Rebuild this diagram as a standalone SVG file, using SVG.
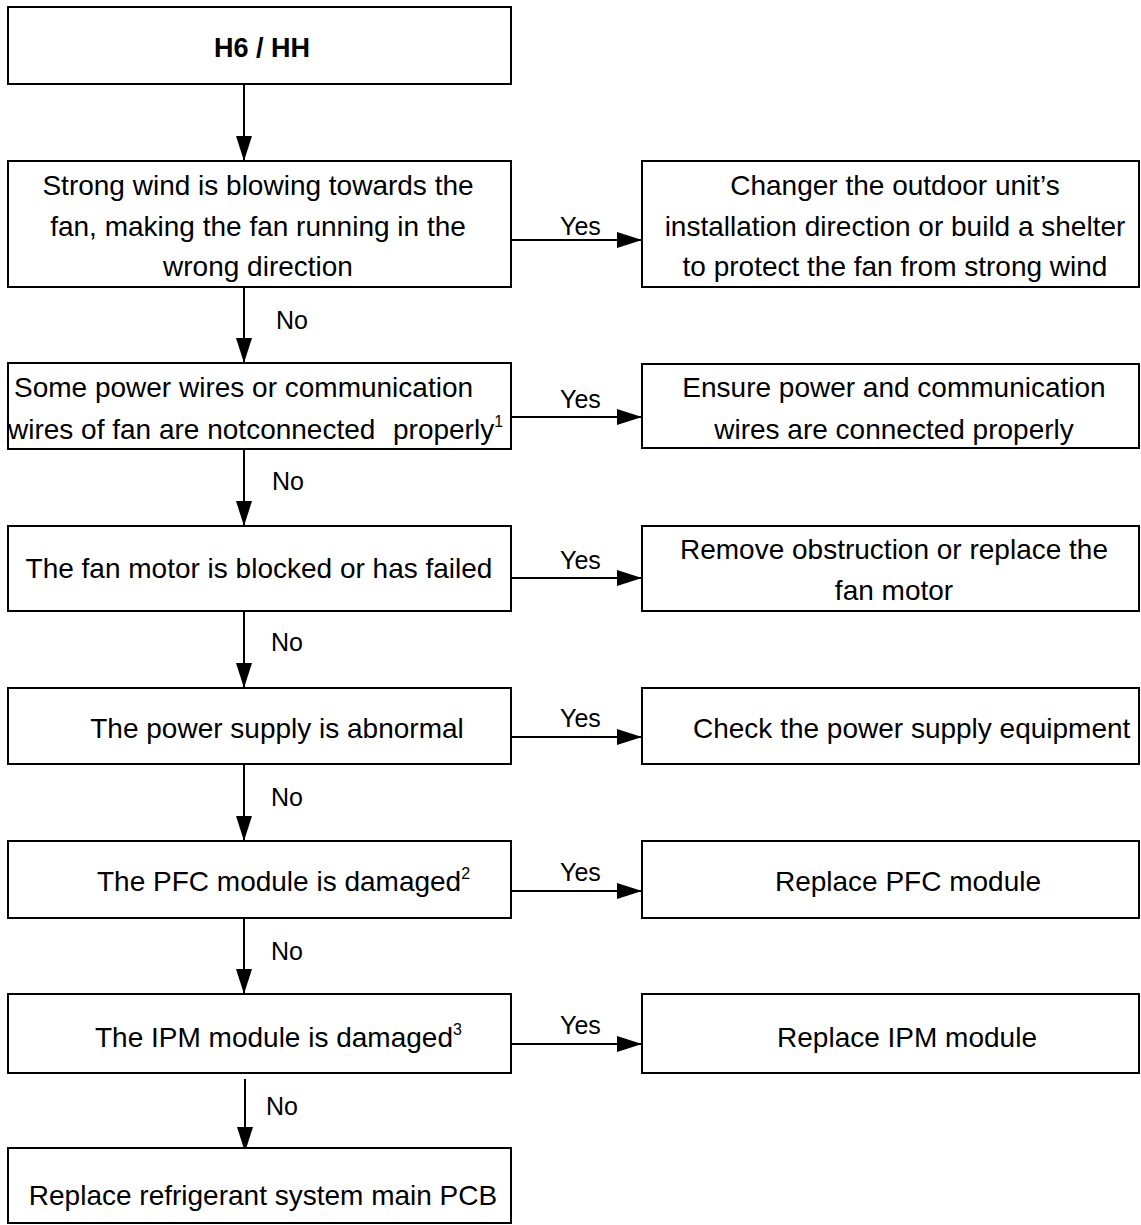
<svg xmlns="http://www.w3.org/2000/svg" width="1141" height="1225" viewBox="0 0 1141 1225">
<style>
  .box { fill: #fff; stroke: #000; stroke-width: 2; }
  .t { font-family: "Liberation Sans", Arial, sans-serif; font-size: 28px; fill: #000; }
  .c { text-anchor: middle; }
  .title { font-family: "Liberation Sans", Arial, sans-serif; font-size: 27px; font-weight: bold; text-anchor: middle; }
  .lbl { font-family: "Liberation Sans", Arial, sans-serif; font-size: 25px; fill: #000; }
  .sup { font-size: 16px; }
  .edge { stroke: #000; stroke-width: 2; fill: none; marker-end: url(#ah); }
</style>
<defs>
  <marker id="ah" markerUnits="userSpaceOnUse" markerWidth="26" markerHeight="16" refX="25" refY="8" orient="auto">
    <path d="M0,0 L25,8 L0,16 Z" fill="#000"/>
  </marker>
</defs>
<rect width="1141" height="1225" fill="#fff"/>

<g id="connectors">
  <line class="edge" x1="244" y1="84" x2="244" y2="161"/>
  <line class="edge" x1="244" y1="287" x2="244" y2="363"/>
  <line class="edge" x1="244" y1="449" x2="244" y2="526"/>
  <line class="edge" x1="244" y1="611" x2="244" y2="688"/>
  <line class="edge" x1="244" y1="764" x2="244" y2="841"/>
  <line class="edge" x1="244" y1="918" x2="244" y2="994"/>
  <line class="edge" x1="245" y1="1079" x2="245" y2="1152"/>
  <line class="edge" x1="511" y1="240" x2="642" y2="240"/>
  <line class="edge" x1="511" y1="417" x2="642" y2="417"/>
  <line class="edge" x1="511" y1="578" x2="642" y2="578"/>
  <line class="edge" x1="511" y1="737" x2="642" y2="737"/>
  <line class="edge" x1="511" y1="891" x2="642" y2="891"/>
  <line class="edge" x1="511" y1="1044" x2="642" y2="1044"/>
  <text class="lbl" x="276" y="329">No</text>
  <text class="lbl" x="272" y="490">No</text>
  <text class="lbl" x="271" y="651">No</text>
  <text class="lbl" x="271" y="806">No</text>
  <text class="lbl" x="271" y="960">No</text>
  <text class="lbl" x="266" y="1115">No</text>
  <text class="lbl" x="560" y="235">Yes</text>
  <text class="lbl" x="560" y="408">Yes</text>
  <text class="lbl" x="560" y="569">Yes</text>
  <text class="lbl" x="560" y="727">Yes</text>
  <text class="lbl" x="560" y="881">Yes</text>
  <text class="lbl" x="560" y="1034">Yes</text>
</g>

<g id="start">
  <rect class="box" x="8" y="7" width="503" height="77"/>
  <text class="title" x="262" y="57">H6 / HH</text>
</g>

<g id="q1">
  <rect class="box" x="8" y="161" width="503" height="126"/>
  <text class="t c" x="258" y="195">Strong wind is blowing towards the</text>
  <text class="t c" x="258" y="236">fan, making the fan running in the</text>
  <text class="t c" x="258" y="276">wrong direction</text>
</g>
<g id="a1">
  <rect class="box" x="642" y="161" width="497" height="126"/>
  <text class="t c" x="895" y="195">Changer the outdoor unit’s</text>
  <text class="t c" x="895" y="236">installation direction or build a shelter</text>
  <text class="t c" x="895" y="276">to protect the fan from strong wind</text>
</g>

<g id="q2">
  <rect class="box" x="8" y="363" width="503" height="86"/>
  <text class="t" x="14" y="397">Some power wires or communication</text>
  <text class="t" x="8" y="439">wires of fan are not<tspan>connected</tspan></text>
  <text class="t" x="393" y="439">properly<tspan class="sup" dy="-12">1</tspan></text>
</g>
<g id="a2">
  <rect class="box" x="642" y="364" width="497" height="84"/>
  <text class="t c" x="894" y="397">Ensure power and communication</text>
  <text class="t c" x="894" y="439">wires are connected properly</text>
</g>

<g id="q3">
  <rect class="box" x="8" y="526" width="503" height="85"/>
  <text class="t c" x="259" y="578">The fan motor is blocked or has failed</text>
</g>
<g id="a3">
  <rect class="box" x="642" y="526" width="497" height="85"/>
  <text class="t c" x="894" y="559">Remove obstruction or replace the</text>
  <text class="t c" x="894" y="600">fan motor</text>
</g>

<g id="q4">
  <rect class="box" x="8" y="688" width="503" height="76"/>
  <text class="t c" x="277" y="738">The power supply is abnormal</text>
</g>
<g id="a4">
  <rect class="box" x="642" y="688" width="497" height="76"/>
  <text class="t" x="693" y="738">Check the power supply equipment</text>
</g>

<g id="q5">
  <rect class="box" x="8" y="841" width="503" height="77"/>
  <text class="t" x="97" y="891">The PFC module is damaged<tspan class="sup" dy="-12">2</tspan></text>
</g>
<g id="a5">
  <rect class="box" x="642" y="841" width="497" height="77"/>
  <text class="t c" x="908" y="891">Replace PFC module</text>
</g>

<g id="q6">
  <rect class="box" x="8" y="994" width="503" height="79"/>
  <text class="t" x="95" y="1047">The IPM module is damaged<tspan class="sup" dy="-12">3</tspan></text>
</g>
<g id="a6">
  <rect class="box" x="642" y="994" width="497" height="79"/>
  <text class="t c" x="907" y="1047">Replace IPM module</text>
</g>

<g id="end">
  <rect class="box" x="8" y="1148" width="503" height="75"/>
  <text class="t c" x="263" y="1205">Replace refrigerant system main PCB</text>
</g>
</svg>
